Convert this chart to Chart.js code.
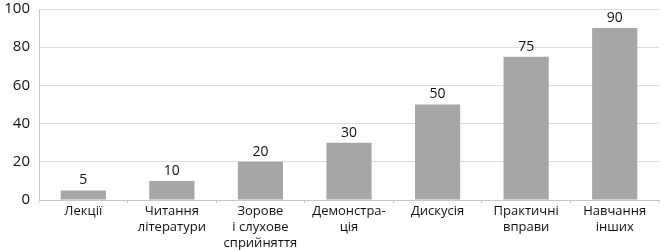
<!DOCTYPE html>
<html><head><meta charset="utf-8">
<script src="https://cdn.jsdelivr.net/npm/chart.js@4"></script>
<style>html,body{margin:0;padding:0;background:#fff}#wrap{width:660px;height:250px}</style>
</head><body><div id="wrap"><canvas id="c" width="660" height="250"></canvas></div>
<script>
const categories = [
  ["Лекції"],
  ["Читання", "літератури"],
  ["Зорове", "і слухове", "сприйняття"],
  ["Демонстра-", "ція"],
  ["Дискусія"],
  ["Практичні", "вправи"],
  ["Навчання", "інших"]
];
const values = [5, 10, 20, 30, 50, 75, 90];
const yTicks = [0, 20, 40, 60, 80, 100];

const FONT = "'Open Sans', 'DejaVu Sans', sans-serif";

const valueLabels = {
  id: 'valueLabels',
  afterDatasetsDraw(chart) {
    const ctx = chart.ctx;
    const meta = chart.getDatasetMeta(0);
    ctx.save();
    ctx.font = "14px " + FONT;
    ctx.fillStyle = '#111';
    ctx.textAlign = 'center';
    ctx.textBaseline = 'bottom';
    meta.data.forEach((bar, i) => {
      ctx.fillText(String(values[i]), bar.x, bar.y - 3);
    });
    ctx.restore();
  }
};

new Chart(document.getElementById('c'), {
  type: 'bar',
  data: {
    labels: categories,
    datasets: [{
      data: values,
      backgroundColor: '#a6a6a6',
      borderWidth: 0,
      barPercentage: 0.51,
      categoryPercentage: 1
    }]
  },
  options: {
    responsive: false,
    animation: false,
    devicePixelRatio: 1,
    layout: { padding: { top: 0, right: 1, left: 0, bottom: 0 } },
    plugins: { legend: { display: false }, tooltip: { enabled: false } },
    scales: {
      x: {
        offset: true,
        grid: {
          display: true,
          offset: true,
          drawOnChartArea: false,
          drawTicks: true,
          tickLength: 3,
          color: '#c8c8c8'
        },
        border: { display: true, color: '#c8c8c8' },
        ticks: {
          color: '#111',
          font: { family: FONT, size: 13, lineHeight: 1.23 },
          maxRotation: 0,
          autoSkip: false,
          padding: 0
        },
        afterFit(scale) { scale.height = 50; }
      },
      y: {
        min: 0,
        max: 100,
        afterBuildTicks(scale) { scale.ticks = yTicks.map(v => ({ value: v })); },
        grid: {
          color: '#dcdcdc',
          drawTicks: true,
          tickLength: 3,
          tickColor: 'rgba(0,0,0,0)'
        },
        border: { display: true, color: '#c8c8c8' },
        ticks: {
          color: '#111',
          font: { family: FONT, size: 15 },
          padding: 6
        },
        afterFit(scale) {
          scale.width = 39;
          scale.paddingTop = 9;
          scale.paddingBottom = 0;
        }
      }
    }
  },
  plugins: [valueLabels]
});
</script>
</body></html>
